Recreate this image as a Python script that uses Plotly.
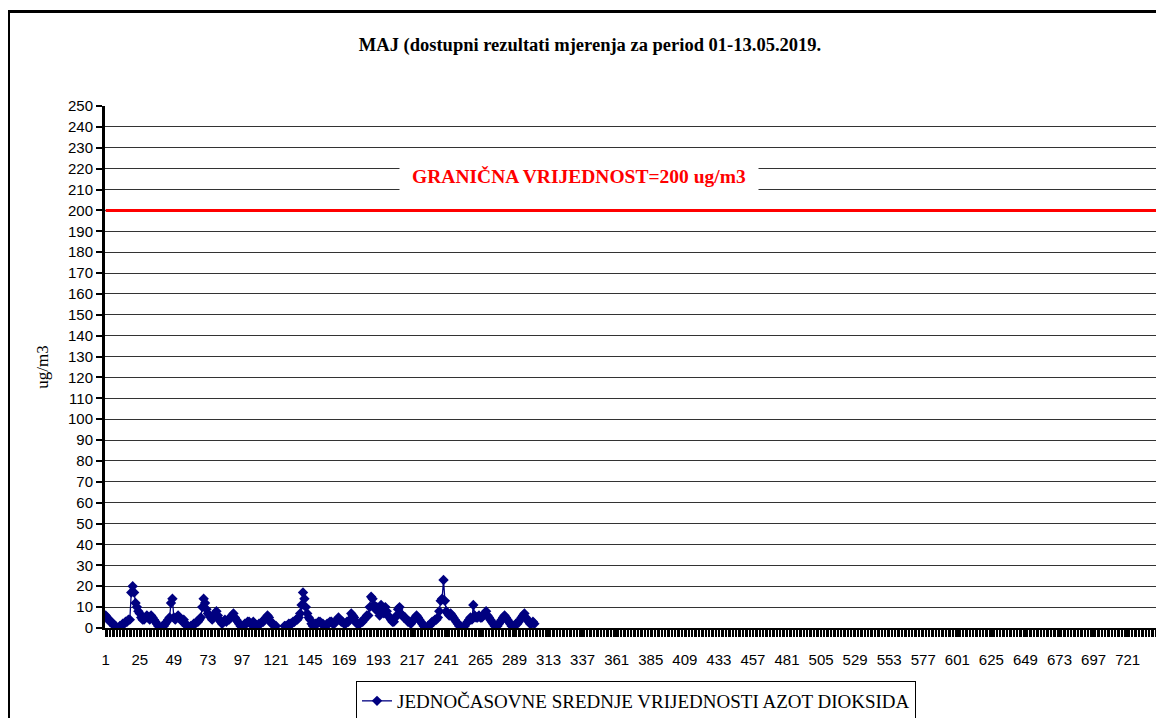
import plotly.graph_objects as go

# hourly NO2 values, May 2019 (hours 1..303), None = missing
day1 = [6, 5, 4, 3, 3, 2, 1, 1, 0, 0, 1, 1, 2, 2, 3, 3, 4, 4, 17, 20, 17, 12, 10, 8]
day2 = [7, 5, 4, 4, 5, 6, 5, 4, 6, 5, 4, 3, 2, 1, 0, 0, 1, 1, 2, 3, 4, 5, 12, 14]
day3 = [5, 4, 5, 6, 5, 4, 3, 4, 2, 1, 1, 0, 1, 1, 2, 2, 3, 3, 4, 5, 10, 14, 12, 9]
day4 = [7, 6, 5, 4, 5, 7, 8, 6, 4, 3, 2, 3, 4, 3, 4, 4, 5, 6, 7, 5, 4, 3, 2, 1]
day5 = [1, 1, 2, 2, 3, 3, 2, 2, 3, 2, 1, 1, 2, 2, 3, 3, 4, 5, 6, 5, 3, 2, 2, 1]
day6 = [1, None, None, None, None, None, 1, 1, 1, 2, 2, 2, 3, 3, 4, 4, 5, 7, 11, 17, 14, 10, 7, 5]
day7 = [4, 2, 1, 1, 2, 2, 3, 3, 2, 2, 1, 1, 2, 2, 3, 3, 2, 2, 3, 4, 5, 4, 3, 3]
day8 = [2, 2, 3, 3, 4, 7, 6, 5, 3, 2, 2, 2, 3, 3, 4, 5, 6, 6, 10, 15, 14, 11, 9, 10]
day9 = [8, 6, 11, 9, 7, 10, 8, 6, 5, 4, 3, 3, 5, 6, 9, 10, 7, 6, 5, 5, 4, 3, 3, 2]
day10 = [3, 4, 5, 6, 5, 4, 3, 2, 1, 0, 0, 1, 1, 2, 3, 3, 4, 4, 5, 8, 13, 14, 23, 13]
day11 = [8, 7, 6, 7, 6, 5, 4, 3, 2, 1, 1, 0, 0, 1, 2, 3, 4, 5, 4, 11, 6, 5, 5, 6]
day12 = [5, 5, 6, 7, 8, 6, 5, 4, 3, 2, 1, 1, 1, 2, 3, 4, 5, 6, 5, 4, 3, 2, 1, 1]
day13 = [1, 2, 2, 3, 4, 5, 6, 7, 5, 4, 3, 2, 2, 3, 2]

no2 = day1 + day2 + day3 + day4 + day5 + day6 + day7 + day8 + day9 + day10 + day11 + day12 + day13
hours = list(range(1, len(no2) + 1))
all_hours = list(range(1, 745))
limit = [200] * len(all_hours)
tick_vals = list(range(1, 745, 24))

# the page body has an 8px margin, so the figure starts at (8, 8)
OFF = 8
L, R, T, B = 97, 3, 98, 90
W, H = 1156, 710
pw, ph = W - L - R, H - T - B


def px(x):
    return (x - OFF - L) / pw


def py(y):
    return (H - B - (y - OFF)) / ph


serif = "Liberation Serif, Times New Roman, serif"
sans = "Liberation Sans, Arial, sans-serif"

fig = go.Figure()
fig.add_trace(go.Scatter(
    x=all_hours, y=limit, mode="lines", showlegend=False,
    line=dict(color="#ff0000", width=3), hoverinfo="skip",
))
fig.add_trace(go.Scatter(
    x=hours, y=no2, mode="lines+markers",
    name="JEDNOČASOVNE SREDNJE VRIJEDNOSTI AZOT DIOKSIDA",
    line=dict(color="#000080", width=1.3),
    marker=dict(symbol="diamond", size=8, color="#000080"),
    connectgaps=False,
))

fig.update_layout(
    width=W, height=H,
    margin=dict(l=L, r=R, t=T, b=B, autoexpand=False),
    paper_bgcolor="white", plot_bgcolor="white",
    font=dict(family=sans, size=15, color="black"),
    title=dict(
        text="<b>MAJ (dostupni rezultati mjerenja za period 01-13.05.2019.</b>",
        x=(590 - OFF) / W, xanchor="center", y=1 - (45 - OFF) / H, yanchor="middle",
        font=dict(family=serif, size=18.5, color="black"),
    ),
    showlegend=True,
    legend=dict(
        x=px(636), xanchor="center", y=py(681), yanchor="top",
        orientation="h", bordercolor="black", borderwidth=1, bgcolor="white",
        font=dict(family=serif, size=19, color="black"),
    ),
)

fig.update_xaxes(
    range=[0.5, 744.5], tickmode="array", tickvals=tick_vals,
    ticks="outside", ticklen=7, tickcolor="black", tickwidth=1.3,
    minor=dict(dtick=1, tick0=0.5, ticks="outside", ticklen=7, tickcolor="black", tickwidth=1.3),
    showline=True, linecolor="black", linewidth=2, automargin=False,
    showgrid=False, zeroline=False, ticklabelstandoff=10,
    tickfont=dict(family=sans, size=15),
)
fig.update_yaxes(
    range=[0, 250], dtick=10, tick0=0,
    ticks="outside", ticklen=6, tickcolor="black", tickwidth=2,
    showline=True, linecolor="black", linewidth=3, automargin=False,
    showgrid=True, gridcolor="#333333", gridwidth=1, zeroline=False,
    tickfont=dict(family=sans, size=15),
    title=dict(text="ug/m3", standoff=16, font=dict(family=serif, size=17)),
)

# limit label with white box hiding the grid lines behind it
fig.add_annotation(
    x=px(579), y=py(176), xref="paper", yref="paper",
    xanchor="center", yanchor="middle",
    text="<b>GRANIČNA VRIJEDNOST=200 ug/m3</b>", showarrow=False,
    bgcolor="white", width=356, height=36,
    font=dict(family=serif, size=19.5, color="#ff0000"),
)

# outer chart frame
fig.add_shape(type="rect", xref="paper", yref="paper",
              x0=px(8.5), x1=px(1180), y0=py(740), y1=py(11.5),
              line=dict(color="black", width=3), layer="above")
# right edge of the plot area
fig.add_shape(type="line", xref="paper", yref="paper",
              x0=1, x1=1, y0=0, y1=1, line=dict(color="#888888", width=1))

fig.write_html("out.html")
